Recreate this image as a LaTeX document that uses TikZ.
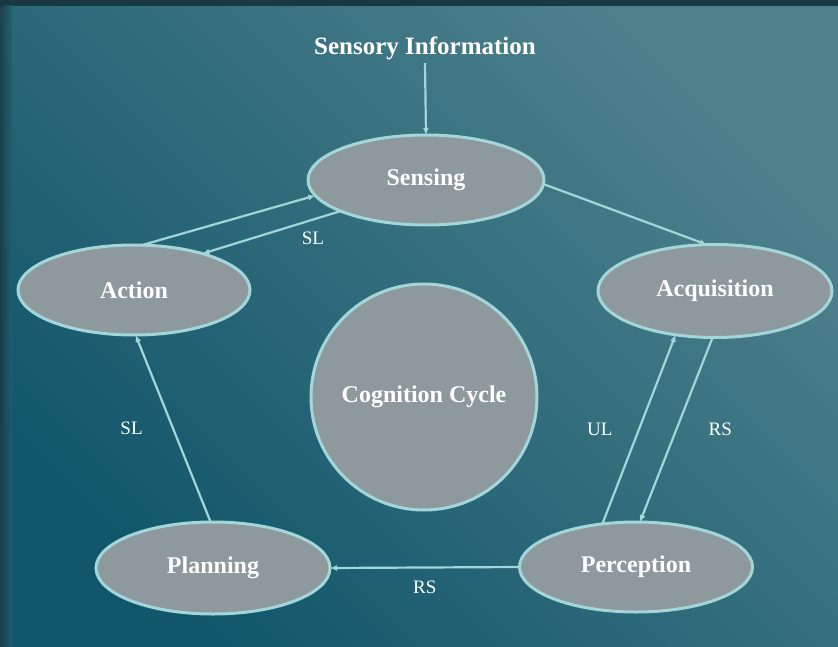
\documentclass[tikz,border=0pt]{standalone}
\usepackage{fontspec}
\setmainfont{Liberation Serif}
\usetikzlibrary{arrows.meta,shapes.geometric}
\definecolor{bgdark}{HTML}{11566A}
\definecolor{bgmid}{HTML}{1F6272}
\definecolor{bglight}{HTML}{4F818D}
\definecolor{edgecol}{HTML}{A3D6D9}
\definecolor{nodefill}{HTML}{8D999D}
\definecolor{strip}{HTML}{1A3842}
\begin{document}
\begin{tikzpicture}[x=1pt,y=-1pt,
  stage/.style={ellipse,draw=edgecol,line width=3pt,fill=nodefill,inner sep=0pt,outer sep=0pt,
    font=\fontsize{24}{26}\selectfont\bfseries,text=white},
  flow/.style={draw=edgecol,line width=2.2pt,-{Latex[length=7pt,width=6pt]}},
  lbl/.style={font=\fontsize{19}{21}\selectfont,text=white}]
\useasboundingbox (0,0) rectangle (838,647);
\shade[shading=axis,top color=bglight,middle color=bgmid,bottom color=bgdark,shading angle=-45] (0,0) rectangle (838,647);
\fill[strip] (0,0) rectangle (838,6);
\shade[left color=strip,right color=bgmid,opacity=0.8] (0,6) rectangle (12,647);
% nodes
\node[lbl,font=\fontsize{25}{27}\selectfont\bfseries] (info) at (425,48) {Sensory Information};
\node[stage,minimum width=236pt,minimum height=90pt] (sen) at (426,180) {Sensing};
\node[stage,minimum width=232pt,minimum height=90pt] (act) at (134,290) {Action};
\node[stage,minimum width=234pt,minimum height=93pt] (acq) at (715,291) {Acquisition};
\node[stage,minimum width=233pt,minimum height=90pt] (per) at (636,567) {Perception};
\node[stage,minimum width=234pt,minimum height=92pt] (pla) at (213,568) {Planning};
\node[stage,circle,minimum size=226pt] (cyc) at (424,397) {Cognition Cycle};
% connectors
\draw[flow] (info.south) -- (sen.north);
\draw[flow] (sen.-2) -- (acq.100);
\draw[flow] (act.80) -- (sen.188);
\draw[flow] (sen.200) -- node[lbl,pos=0.2,below=8pt]{SL} (act.28);
\draw[flow] (pla.93) -- node[lbl,left=26pt]{SL} (act.-88);
\draw[flow] (per.west) -- node[lbl,below=9pt]{RS} (pla.east);
\draw[flow] (acq.-93) -- node[lbl,right=28pt]{RS} (per.85);
\draw[flow] (per.128) -- node[lbl,left=22pt]{UL} (acq.228);
\end{tikzpicture}
\end{document}
